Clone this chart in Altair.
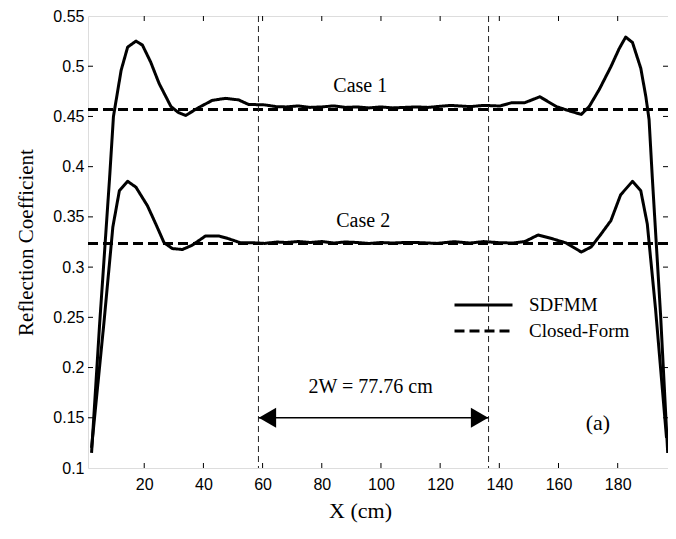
import altair as alt
import pandas as pd

# ---- data ----
case1_x = [2.2, 4.9, 8.3, 9.6, 12.2, 14.4, 17.2, 19.4, 22.2, 25.0, 29.0, 31.5, 34.0, 38.5, 43.0, 47.4,
           51.9, 55.2, 60.8, 64.7, 68, 72, 76, 80, 84, 88, 92, 96, 100, 104, 108, 112, 116,
           118.9, 123.5, 130.2, 134.7, 140.2, 144.2, 148.6, 153.7, 159.3, 163.7, 167.7, 170.4,
           173.8, 177.7, 180.5, 182.7, 185.0, 187.8, 189.5, 190.6, 191.7, 194.5, 196.9]
case1_y = [0.115, 0.242, 0.389, 0.450, 0.496, 0.519, 0.525, 0.521, 0.504, 0.483, 0.460, 0.454, 0.451,
           0.459, 0.466, 0.468, 0.4665, 0.462, 0.4615, 0.4597, 0.4595, 0.4605, 0.459, 0.4595, 0.4605,
           0.459, 0.4595, 0.4585, 0.4595, 0.4585, 0.459, 0.4595, 0.459,
           0.4598, 0.461, 0.4598, 0.461, 0.4604, 0.4637, 0.4637, 0.4696, 0.4598, 0.4555, 0.452, 0.460,
           0.477, 0.4995, 0.5175, 0.529, 0.5236, 0.498, 0.470, 0.447, 0.389, 0.252, 0.115]

case2_x = [2.2, 6.3, 9.4, 11.6, 14.4, 17.2, 21.1, 23.9, 26.7, 29.5, 32.9, 36.2, 40.7, 45.2, 48.5,
           52.4, 56.3, 60.8, 64.7, 68, 72, 76, 80, 84, 88, 92, 96, 100, 104, 108, 112, 116,
           118.9, 124.6, 130.2, 134.7, 140.2, 144.6, 148.6, 153.1, 158.2, 162.6, 167.7, 171.0,
           174.4, 177.7, 181.0, 185.0, 187.8, 190.0, 192.8, 196.5]
case2_y = [0.120, 0.242, 0.340, 0.376, 0.3854, 0.3796, 0.361, 0.343, 0.3243, 0.3185, 0.3175, 0.3218,
           0.331, 0.331, 0.3283, 0.3243, 0.3243, 0.3236, 0.325, 0.3245, 0.3255, 0.3245, 0.3255, 0.324,
           0.325, 0.3245, 0.3235, 0.3245, 0.324, 0.3245, 0.3245, 0.324,
           0.3236, 0.3253, 0.324, 0.3254, 0.3243, 0.324, 0.3254, 0.332, 0.328, 0.324, 0.315, 0.320,
           0.333, 0.3463, 0.372, 0.3854, 0.376, 0.343, 0.258, 0.130]

closed_x = [1, 197]
closed_case1 = 0.457
closed_case2 = 0.3234

w_lines = [58.6, 136.36]
arrow_y = 0.15

x_ticks = [20, 40, 60, 80, 100, 120, 140, 160, 180]
y_ticks = [0.15, 0.2, 0.25, 0.3, 0.35, 0.4, 0.45, 0.5]

case_labels = ["Case 1", "Case 2"]
case_label_x = [93, 94]
case_label_y = [0.4748, 0.3397]

span_label = "2W = 77.76 cm"
span_label_x = 96.5
span_label_y = 0.175

panel_label = "(a)"
panel_label_x = 173.3
panel_label_y = 0.1375

X_DOMAIN = [1, 197]
Y_DOMAIN = [0.1, 0.55]
SERIF = "Liberation Serif"
SANS = "Liberation Sans"
W, H = 580, 452

# ---- tables ----
rows = []
for x, y in zip(case1_x, case1_y):
    rows.append({"x": x, "y": y, "case": "1", "method": "SDFMM"})
for x, y in zip(case2_x, case2_y):
    rows.append({"x": x, "y": y, "case": "2", "method": "SDFMM"})
for x in closed_x:
    rows.append({"x": x, "y": closed_case1, "case": "1", "method": "Closed-Form"})
    rows.append({"x": x, "y": closed_case2, "case": "2", "method": "Closed-Form"})
lines_df = pd.DataFrame(rows)

xs = alt.Scale(domain=X_DOMAIN, nice=False, zero=False)
ys = alt.Scale(domain=Y_DOMAIN, nice=False, zero=False)

x_axis = alt.Axis(
    values=x_ticks, title="X (cm)", grid=False, domain=False, ticks=False,
    labelFont=SANS, labelFontSize=16, labelColor="black", labelPadding=8,
    titleFont=SERIF, titleFontSize=22, titleFontWeight="normal", titleColor="black",
    titleBaseline="alphabetic", titleY=49, titleX=272, titleAlign="center")
y_axis = alt.Axis(
    values=[0.1] + y_ticks + [0.55], format=".2~f", title="Reflection Coefficient",
    grid=False, domain=False, ticks=False,
    labelFont=SANS, labelFontSize=16, labelColor="black", labelPadding=4,
    titleFont=SERIF, titleFontSize=21, titleFontWeight="normal", titleColor="black",
    titleBaseline="alphabetic", titleX=-56, titleY=H / 2, titleAlign="center", titleAngle=-90)


def X(field):
    return alt.X(field, scale=xs, axis=x_axis)


def Y(field):
    return alt.Y(field, scale=ys, axis=y_axis)


main = alt.Chart(lines_df).mark_line(color="black", strokeWidth=3, strokeJoin="round").encode(
    x=X("x:Q"),
    y=Y("y:Q"),
    strokeDash=alt.StrokeDash("method:N",
        scale=alt.Scale(domain=["SDFMM", "Closed-Form"], range=[[1, 0], [10, 5]]),
        legend=alt.Legend(title=None, orient="none", legendX=365, legendY=279, padding=0,
                          symbolType="stroke", symbolSize=3364, symbolStrokeWidth=3,
                          symbolStrokeColor="black", clipHeight=20, rowPadding=6,
                          labelOffset=15, labelFont=SERIF, labelFontSize=19,
                          labelColor="black")),
    detail="case:N",
)

xt_df = pd.DataFrame({"x": x_ticks})
yt_df = pd.DataFrame({"y": y_ticks})
tick_style = dict(color="black", strokeWidth=1)
ticks_bottom = alt.Chart(xt_df).mark_rule(**tick_style).encode(
    x=X("x:Q"), y=alt.value(H), y2=alt.value(H - 5))
ticks_top = alt.Chart(xt_df).mark_rule(**tick_style).encode(
    x=X("x:Q"), y=alt.value(0), y2=alt.value(5))
ticks_left = alt.Chart(yt_df).mark_rule(**tick_style).encode(
    y=Y("y:Q"), x=alt.value(0), x2=alt.value(5))
ticks_right = alt.Chart(yt_df).mark_rule(**tick_style).encode(
    y=Y("y:Q"), x=alt.value(W), x2=alt.value(W - 5))

w_df = pd.DataFrame({"x": w_lines})
w_rules = alt.Chart(w_df).mark_rule(color="#222222", strokeWidth=1, strokeDash=[6, 4]).encode(
    x=X("x:Q"))

arrow_df = pd.DataFrame({"x": [w_lines[0]], "x2": [w_lines[1]], "y": [arrow_y]})
shaft = alt.Chart(arrow_df).mark_rule(color="black", strokeWidth=1.5).encode(
    x=X("x:Q"), x2="x2:Q", y=Y("y:Q"))
head_l = alt.Chart(arrow_df).mark_point(shape="triangle-left", size=400, filled=True,
                                        color="black", opacity=1, xOffset=9).encode(
    x=X("x:Q"), y=Y("y:Q"))
head_r = alt.Chart(arrow_df).mark_point(shape="triangle-right", size=400, filled=True,
                                        color="black", opacity=1, xOffset=-9).encode(
    x=X("x2:Q"), y=Y("y:Q"))

case_df = pd.DataFrame({"t": case_labels, "x": case_label_x, "y": case_label_y})
case_text = alt.Chart(case_df).mark_text(font=SERIF, fontSize=20, color="black",
                                         baseline="alphabetic", align="center").encode(
    x=X("x:Q"), y=Y("y:Q"), text="t:N")

span_df = pd.DataFrame({"t": [span_label], "x": [span_label_x], "y": [span_label_y]})
span_text = alt.Chart(span_df).mark_text(font=SERIF, fontSize=20, color="black",
                                         baseline="alphabetic", align="center").encode(
    x=X("x:Q"), y=Y("y:Q"), text="t:N")

panel_df = pd.DataFrame({"t": [panel_label], "x": [panel_label_x], "y": [panel_label_y]})
panel_text = alt.Chart(panel_df).mark_text(font=SERIF, fontSize=22, color="black",
                                           baseline="alphabetic", align="center").encode(
    x=X("x:Q"), y=Y("y:Q"), text="t:N")

chart = alt.layer(
    main, w_rules, shaft, head_l, head_r, case_text, span_text, panel_text,
    ticks_bottom, ticks_top, ticks_left, ticks_right,
).properties(
    width=W, height=H,
    autosize=alt.AutoSizeParams(type="none"),
    padding={"left": 80, "top": 8, "right": 0, "bottom": 56},
).configure_view(stroke="black", strokeWidth=1).configure(background="white")

chart.save("out.html", embed_options={"renderer": "svg", "actions": False})
